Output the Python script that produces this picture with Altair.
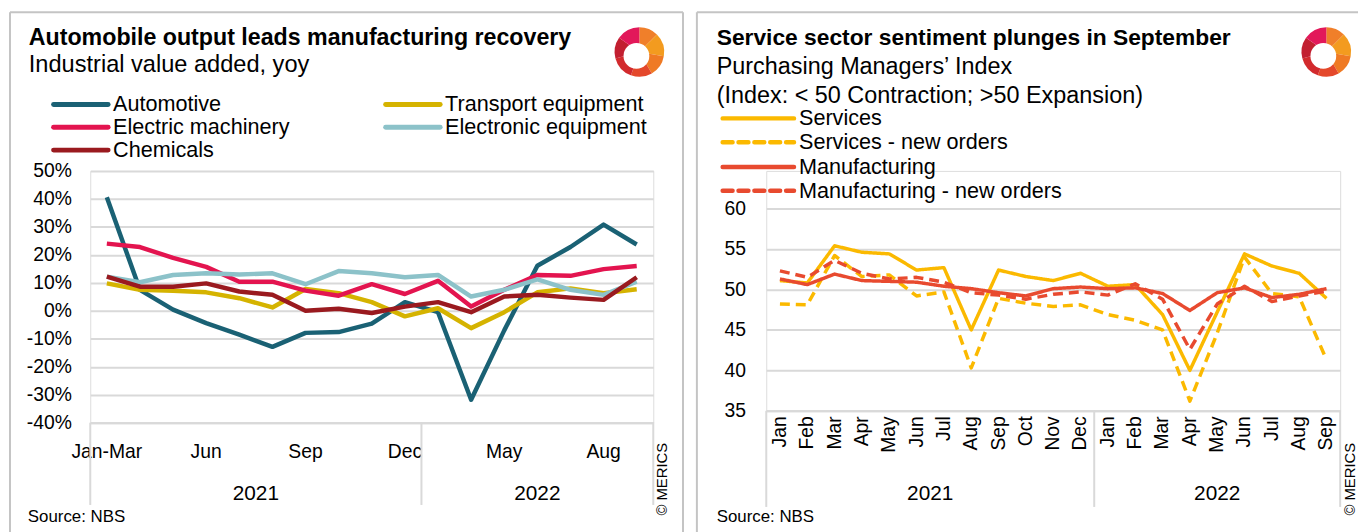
import json
import math
import altair as alt
import pandas as pd

FONT = "Liberation Sans"
GRID = "#d9d9d9"
FRAME = "#c4c4c4"

# ---------------- Left panel data ----------------
left_months = ["Jan-Mar", "Apr", "May", "Jun", "Jul", "Aug", "Sep", "Oct", "Nov", "Dec",
               "Mar", "Apr", "May", "Jun", "Jul", "Aug", "Sep"]
left_years = ["2021"] * 10 + ["2022"] * 7
left_tick_keys = ["2021|Jan-Mar", "2021|Jun", "2021|Sep", "2021|Dec", "2022|May", "2022|Aug"]
left_series = ["Automotive", "Transport equipment", "Electric machinery",
               "Electronic equipment", "Chemicals"]
left_colors = ["#1a6174", "#d5b300", "#e3144f", "#8cc2c9", "#9a1a1f"]
automotive = [40.6, 7.5, 0.4, -4.4, -8.5, -12.9, -7.9, -7.6, -4.6, 3.1,
              -0.5, -31.8, -7.0, 16.1, 22.8, 30.8, 23.7]
transport_equipment = [9.8, 7.5, 7.2, 6.6, 4.5, 1.2, 7.8, 6.3, 3.1, -2.0,
                       0.9, -6.2, -0.5, 6.6, 8.0, 6.3, 7.7]
electric_machinery = [24.0, 22.8, 18.9, 15.7, 10.4, 10.4, 7.2, 5.4, 9.5, 6.0,
                      10.7, 1.5, 7.5, 12.8, 12.5, 14.9, 16.0]
electronic_equipment = [12.2, 10.2, 12.8, 13.4, 13.0, 13.4, 9.5, 14.2, 13.4, 12.0,
                        12.8, 5.1, 7.5, 11.2, 7.5, 5.7, 10.4]
chemicals = [12.2, 8.6, 8.6, 9.8, 6.9, 5.7, 0.0, 0.7, -0.8, 1.5,
             3.1, -0.5, 5.1, 5.7, 4.7, 3.9, 12.0]
left_yticks = [-40, -30, -20, -10, 0, 10, 20, 30, 40, 50]

# ---------------- Right panel data ----------------
right_months = ["Jan", "Feb", "Mar", "Apr", "May", "Jun", "Jul", "Aug", "Sep", "Oct", "Nov", "Dec",
                "Jan", "Feb", "Mar", "Apr", "May", "Jun", "Jul", "Aug", "Sep"]
right_years = ["2021"] * 12 + ["2022"] * 9
services = [51.1, 50.8, 55.4, 54.6, 54.4, 52.4, 52.7, 45.0, 52.4, 51.6, 51.1, 52.0,
            50.4, 50.6, 46.9, 40.0, 47.2, 54.4, 52.9, 52.0, 48.9]
services_new_orders = [48.2, 48.1, 54.2, 51.6, 51.8, 49.2, 49.7, 40.3, 48.9, 48.3, 47.9, 48.1,
                       46.9, 46.2, 45.0, 36.2, 44.6, 54.0, 49.5, 49.1, 41.3]
manufacturing = [51.3, 50.6, 51.9, 51.1, 51.0, 50.9, 50.4, 50.1, 49.6, 49.2, 50.1, 50.3,
                 50.1, 50.2, 49.5, 47.4, 49.6, 50.2, 49.0, 49.4, 50.1]
manufacturing_new_orders = [52.3, 51.5, 53.6, 52.0, 51.3, 51.5, 50.9, 49.6, 49.3, 48.8, 49.4, 49.7,
                            49.3, 50.7, 48.8, 42.6, 48.2, 50.4, 48.5, 49.2, 49.8]
right_series = ["Services", "Services - new orders", "Manufacturing", "Manufacturing - new orders"]
right_colors = ["#fbb900", "#fbb900", "#e84a2f", "#e84a2f"]
right_dashes = [[1, 0], [10, 6], [1, 0], [10, 6]]
right_yticks = [35, 40, 45, 50, 55, 60]

# logo pieces: (start deg, end deg, colour)
logo_pieces = [(0, 45, "#f07f2a"), (45, 100, "#f39b1f"), (100, 150, "#ef7a24"),
               (150, 200, "#e4482b"), (200, 255, "#d22a2d"), (255, 305, "#c21f30"),
               (305, 360, "#e2185a")]

ONE = pd.DataFrame({"a": [0]})


def txt(t, x, y, size, weight="normal", align="left", baseline="alphabetic", angle=0):
    return alt.Chart(pd.DataFrame({"t": [t]})).mark_text(
        align=align, baseline=baseline, fontSize=size, fontWeight=weight,
        angle=angle, color="black", font=FONT
    ).encode(x=alt.value(x), y=alt.value(y), text="t:N")


def seg(x1, y1, x2, y2, color=FRAME, width=2, dash=None, cap="butt"):
    kw = dict(color=color, strokeWidth=width, strokeCap=cap)
    if dash is not None:
        kw["strokeDash"] = dash
    return alt.Chart(ONE).mark_rule(**kw).encode(
        x=alt.value(x1), y=alt.value(y1), x2=alt.value(x2), y2=alt.value(y2))


def logo(cx, cy, r_out=25, r_in=13):
    out = []
    for t0, t1, c in logo_pieces:
        out.append(alt.Chart(ONE).mark_arc(color=c).encode(
            x=alt.value(cx), y=alt.value(cy),
            theta=alt.value(math.radians(t0)), theta2=alt.value(math.radians(t1)),
            radius=alt.value(r_out), radius2=alt.value(0)))
    out.append(alt.Chart(ONE).mark_arc(color="white").encode(
        x=alt.value(cx - 3), y=alt.value(cy + 4),
        theta=alt.value(0), theta2=alt.value(2 * math.pi),
        radius=alt.value(r_in), radius2=alt.value(0)))
    return out


def year_groups(years, keys):
    res = []
    for y in dict.fromkeys(years):
        res.append((y, [k for k, yy in zip(keys, years) if yy == y]))
    return res


def build_panel(keys, years, df, series, colors, dashes, yticks, ydomain, yrange, ylabel_expr,
                tick_keys, H, line_w, x_axis_kw, y_pad, year_y, sep_y2):
    if tick_keys is None:
        lab_expr = "split(datum.value, '|')[1]"
    else:
        lab_expr = ("indexof(" + json.dumps(tick_keys) + ", datum.value) >= 0 ? "
                    "split(datum.value, '|')[1] : ''")
    x_axis = alt.Axis(labelExpr=lab_expr, ticks=False, domain=True, domainColor=GRID,
                      domainWidth=2, grid=False, labelColor="black", labelFont=FONT,
                      labelOverlap=False, **x_axis_kw)
    xscale = alt.Scale(type="band", domain=keys, paddingInner=0, paddingOuter=0)

    def X(bp):
        return alt.X("key:N", sort=keys, scale=xscale, bandPosition=bp, axis=x_axis, title=None)

    yscale_kw = dict(domain=ydomain, nice=False, zero=False)
    if yrange is not None:
        yscale_kw["range"] = yrange
    y = alt.Y("value:Q", scale=alt.Scale(**yscale_kw),
              axis=alt.Axis(values=yticks, labelExpr=ylabel_expr, grid=True, gridColor=GRID,
                            gridWidth=2, domain=False, ticks=False, labelFontSize=19.5,
                            labelPadding=y_pad, labelColor="black", labelFont=FONT),
              title=None)

    enc = dict(
        x=X(0.5), y=y, order=alt.Order("idx:Q"),
        color=alt.Color("series:N", scale=alt.Scale(domain=series, range=colors), legend=None),
    )
    if dashes is not None:
        enc["strokeDash"] = alt.StrokeDash("series:N", scale=alt.Scale(domain=series, range=dashes),
                                           legend=None)
    lines = alt.Chart(df).mark_line(strokeWidth=line_w, strokeJoin="round").encode(**enc)

    groups = year_groups(years, keys)
    starts = pd.DataFrame({"key": [g[1][0] for g in groups]})
    ends = pd.DataFrame({"key": [keys[-1]]})
    sep1 = alt.Chart(starts).mark_rule(color=GRID, strokeWidth=2).encode(
        x=X(0), y=alt.value(H), y2=alt.value(sep_y2))
    sep2 = alt.Chart(ends).mark_rule(color=GRID, strokeWidth=2).encode(
        x=X(1), y=alt.value(H), y2=alt.value(sep_y2))

    ylayers = []
    for yname, ks in groups:
        n = len(ks)
        bp = 0 if n % 2 == 0 else 0.5
        ylayers.append(alt.Chart(pd.DataFrame({"key": [ks[n // 2]], "year": [yname]})).mark_text(
            fontSize=21, font=FONT, color="black", baseline="middle", align="center").encode(
            x=X(bp), y=alt.value(year_y), text="year:N"))
    return [sep1, sep2, lines] + ylayers


# ---------------- Left panel ----------------
lkeys = [f"{y}|{m}" for y, m in zip(left_years, left_months)]
left_values = [automotive, transport_equipment, electric_machinery, electronic_equipment, chemicals]
ldf = pd.DataFrame([{"key": k, "idx": i, "series": s, "value": v[i]}
                    for s, v in zip(left_series, left_values) for i, k in enumerate(lkeys)])
LW, LH = 568, 254
left_layers = build_panel(lkeys, left_years, ldf, left_series, left_colors, None, left_yticks,
                          [-40, 50], None, "datum.value + '%'", left_tick_keys, LH, 4.5,
                          dict(labelFontSize=19.5, labelPadding=20, labelAngle=0),
                          19, 326, 337)

leg_pos = [(-37, -67), (298, -67), (-37, -44), (298, -44), (-37, -21)]
left_legend = []
for (lx, ly), s, c in zip(leg_pos, left_series, left_colors):
    left_legend.append(seg(lx, ly, lx + 55, ly, color=c, width=5, cap="round"))
    left_legend.append(txt(s, lx + 60, ly, 21.8, baseline="middle"))

left_deco = [
    seg(-81, -160, -81, 369), seg(-81, -160, 598, -160), seg(598, -160, 598, 369),
    txt("Automobile output leads manufacturing recovery", -62, -127, 23.4, weight="bold"),
    txt("Industrial value added, yoy", -62, -100, 23.8),
    txt("Source: NBS", -63, 349, 17, baseline="middle"),
    txt("© MERICS", 577, 311, 15, align="center", baseline="middle", angle=270),
] + logo(554, -120)

left = alt.layer(*(left_deco + left_legend + left_layers)).properties(width=LW, height=LH)

# ---------------- Right panel ----------------
rkeys = [f"{y}|{m}" for y, m in zip(right_years, right_months)]
right_values = [services, services_new_orders, manufacturing, manufacturing_new_orders]
rdf = pd.DataFrame([{"key": k, "idx": i, "series": s, "value": v[i]}
                    for s, v in zip(right_series, right_values) for i, k in enumerate(rkeys)])
RW, RH = 579, 242
right_layers = build_panel(rkeys, right_years, rdf, right_series, right_colors, right_dashes,
                           right_yticks, [35, 60], [242, 38], "datum.value", None, RH, 3.5,
                           dict(labelFontSize=19.5, labelPadding=5, labelAngle=270),
                           21, 326, 339)

rleg_y = [-53, -29, -4, 20]
right_legend = []
for ly, s, c, d in zip(rleg_y, right_series, right_colors, right_dashes):
    right_legend.append(seg(-44, ly, 28, ly, color=c, width=4.5, dash=d, cap="round"))
    right_legend.append(txt(s, 33, ly, 21.8, baseline="middle"))

right_deco = [
    seg(-70, -160, -70, 369), seg(-70, -160, 597, -160),
    txt("Service sector sentiment plunges in September", -50, -127, 23, weight="bold"),
    txt("Purchasing Managers\u2019 Index", -50, -98, 23.6),
    txt("(Index: < 50 Contraction; >50 Expansion)", -50, -69, 23.6),
    txt("Source: NBS", -50, 349, 17, baseline="middle"),
    txt("© MERICS", 589, 311, 15, align="center", baseline="middle", angle=270),
] + logo(565, -120)

right = alt.layer(*(right_deco + right_legend + right_layers)).properties(width=RW, height=RH)

chart = alt.hconcat(left, right, spacing=10).resolve_scale(
    color="independent", strokeDash="independent"
).properties(
    padding={"left": 0, "top": 0, "right": 0, "bottom": 0}
).configure_view(stroke=None).configure(font=FONT)

chart.save("out.html", embed_options={"renderer": "svg", "actions": False})
